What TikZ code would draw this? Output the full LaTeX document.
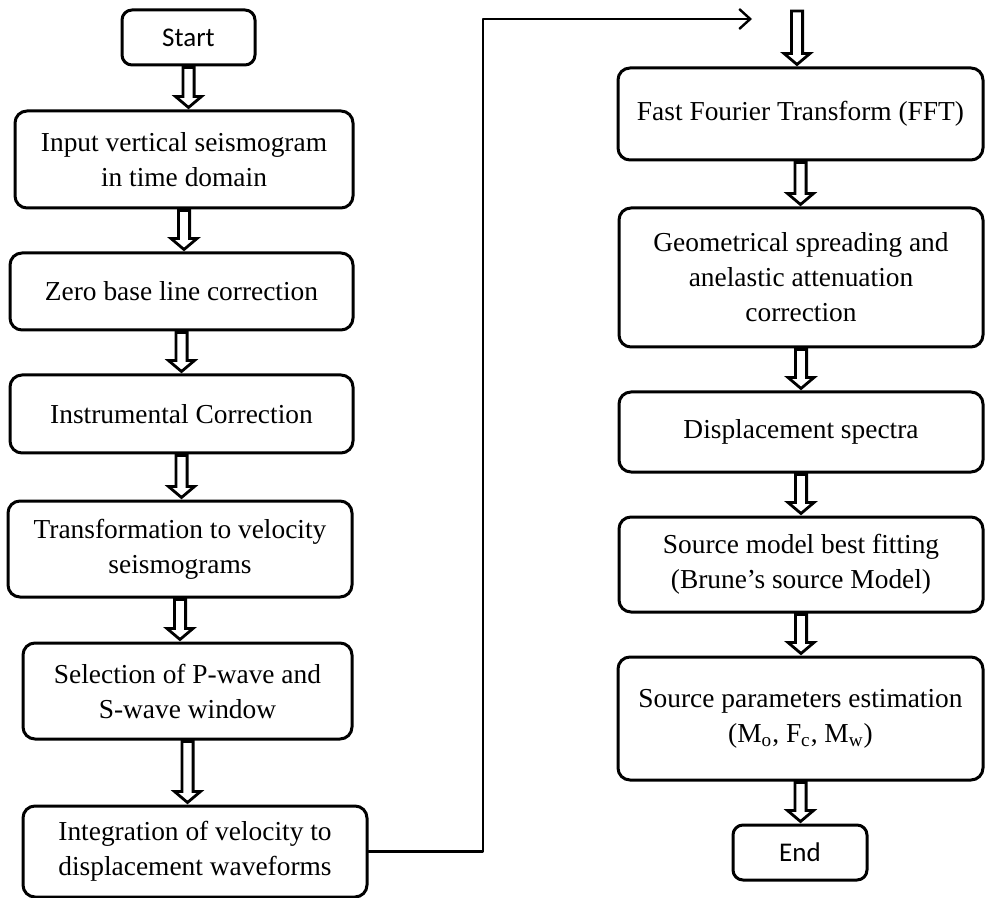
\documentclass[tikz,border=0pt]{standalone}
\usepackage{fontspec}
\setmainfont{Liberation Serif}
\newfontfamily\calfont{Carlito}
\usetikzlibrary{calc,arrows.meta}
\tikzset{
    box/.style={draw, line width=1.5pt, rounded corners=6pt, align=center, inner sep=0pt, font=\fontsize{13.7}{17.5}\selectfont},
    term/.style={box, rounded corners=5pt, font=\calfont\fontsize{13.5}{16}\selectfont},
    arr/.style={line width=1.4pt, fill=white, line join=miter},
    link/.style={line width=1.2pt, -{Straight Barb[length=5.5pt,width=10pt]}}
}
\newcommand{\flowarr}[2]{%
    \filldraw[arr] let \p1=(#1), \p2=(#1 |- #2) in
    (\x1-2.8pt,\y1-0.5pt)--(\x1-2.8pt,\y2+6.5pt)--(\x1-6.5pt,\y2+6.5pt)--(\x2,\y2+1pt)--(\x1+6.5pt,\y2+6.5pt)--(\x1+2.8pt,\y2+6.5pt)--(\x1+2.8pt,\y1-0.5pt)--cycle;}
\begin{document}
\begin{tikzpicture}[x=0.5pt, y=-0.5pt, line cap=round, line join=round]
    \useasboundingbox (0,0) rectangle (985,898);
    % left column
    \node[term, minimum width=66.5pt, minimum height=27.5pt](start) at (188.5,37.5){Start};
    \node[box, minimum width=169pt, minimum height=48.5pt](inp) at (184,159.5){Input vertical seismogram\\in time domain};
    \node[box, minimum width=171.5pt, minimum height=38.5pt](zero) at (181.5,291.5){Zero base line correction};
    \node[box, minimum width=171.5pt, minimum height=39pt](instr) at (181.5,414){Instrumental Correction};
    \node[box, minimum width=172pt, minimum height=48pt](trans) at (180,549){Transformation to velocity\\seismograms};
    \node[box, minimum width=164.5pt, minimum height=48pt](sel) at (187.5,691){Selection of P-wave and\\S-wave window};
    \node[box, minimum width=172pt, minimum height=45.5pt](integ) at (195,851.5){Integration of velocity to\\displacement waveforms};
    % right column
    \node[box, minimum width=182.5pt, minimum height=46pt](fft) at (800.5,114){Fast Fourier Transform (FFT)};
    \node[box, minimum width=182pt, minimum height=69.5pt](geo) at (801,277.5){Geometrical spreading and\\anelastic attenuation\\correction};
    \node[box, minimum width=182pt, minimum height=40pt](disp) at (801,432){Displacement spectra};
    \node[box, minimum width=182pt, minimum height=47.5pt](model) at (801,564.5){Source model best fitting\\(Brune's source Model)};
    \node[box, minimum width=182.5pt, minimum height=61.5pt](param) at (800.5,718.5){Source parameters estimation\\(M\textsubscript{o}, F\textsubscript{c}, M\textsubscript{w})};
    \node[term, minimum width=67pt, minimum height=27.5pt](fin) at (800,852.5){End};
    \foreach \a/\b in {start/inp,inp/zero,zero/instr,instr/trans,trans/sel,sel/integ,fft/geo,geo/disp,disp/model,model/param,param/fin}
        \flowarr{\a.south}{\b.north};
    % jump to the second column
    \coordinate(up) at (483,19);
    \coordinate(tip) at (752,19);
    \coordinate(fftin) at (797,10);
    \draw[link](integ.east)-|(up)--(tip);
    \flowarr{fftin}{fft.north};
\end{tikzpicture}
\end{document}
